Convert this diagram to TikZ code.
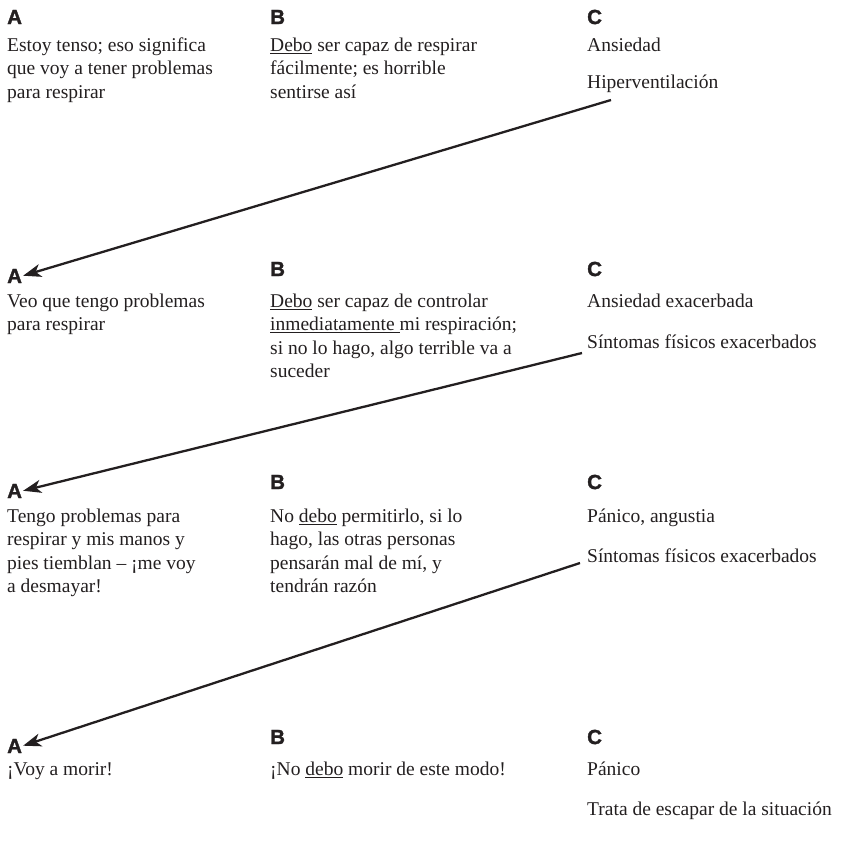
\documentclass[tikz,border=0pt]{standalone}
\usepackage{fontspec}
\setmainfont{Liberation Serif}
\newfontfamily\labfamily{Liberation Sans}[BoldFont={Liberation Sans Bold},BoldFeatures={FakeBold=1.6}]
\usetikzlibrary{arrows.meta}
\definecolor{ink}{HTML}{231F20}
\tikzset{
  lab/.style={anchor=west, inner sep=0pt, text=ink, font=\labfamily\bfseries\fontsize{20.5}{20.5}\selectfont},
  txt/.style={anchor=north west, inner sep=0pt, align=left, font=\fontsize{19.5}{23.3}\selectfont, text=ink},
  link/.style={draw=ink, line width=2.3pt, -{Stealth[length=18pt,width=13pt,inset=5pt]}, shorten >=1pt},
}
\begin{document}
\begin{tikzpicture}[x=1pt,y=-1pt]
\useasboundingbox (0,0) rectangle (845,855);
% row 1
\node[lab] (a1) at (7,17) {A};
\node[lab] (b1) at (270,17) {B};
\node[lab] (c1) at (587,17) {C};
\node[txt] (ta1) at (7,35) {\strut Estoy tenso; eso significa\\que voy a tener problemas\\para respirar};
\node[txt] (tb1) at (270,35) {\strut\underline{Debo} ser capaz de respirar\\fácilmente; es horrible\\sentirse así};
\node[txt] (tc1) at (587,35) {\strut Ansiedad};
\node[txt] (td1) at (587,72) {\strut Hiperventilación};
% row 2
\node[lab] (a2) at (7,276) {A};
\node[lab] (b2) at (270,269) {B};
\node[lab] (c2) at (587,269) {C};
\node[txt] (ta2) at (7,291) {\strut Veo que tengo problemas\\para respirar};
\node[txt] (tb2) at (270,291) {\strut\underline{Debo} ser capaz de controlar\\\underline{inmediatamente }mi respiración;\\si no lo hago, algo terrible va a\\suceder};
\node[txt] (tc2) at (587,291) {\strut Ansiedad exacerbada};
\node[txt] (td2) at (587,332) {\strut Síntomas físicos exacerbados};
% row 3
\node[lab] (a3) at (7,491) {A};
\node[lab] (b3) at (270,482) {B};
\node[lab] (c3) at (587,482) {C};
\node[txt] (ta3) at (7,506) {\strut Tengo problemas para\\respirar y mis manos y\\pies tiemblan – ¡me voy\\a desmayar!};
\node[txt] (tb3) at (270,506) {\strut No \underline{debo} permitirlo, si lo\\hago, las otras personas\\pensarán mal de mí, y\\tendrán razón};
\node[txt] (tc3) at (587,506) {\strut Pánico, angustia};
\node[txt] (td3) at (587,546) {\strut Síntomas físicos exacerbados};
% row 4
\node[lab] (a4) at (7,746) {A};
\node[lab] (b4) at (270,737) {B};
\node[lab] (c4) at (587,737) {C};
\node[txt] (ta4) at (7,759) {\strut ¡Voy a morir!};
\node[txt] (tb4) at (270,759) {\strut ¡No \underline{debo} morir de este modo!};
\node[txt] (tc4) at (587,759) {\strut Pánico};
\node[txt] (td4) at (587,799) {\strut Trata de escapar de la situación};
% connectors
\coordinate (s1) at (611,100);
\coordinate (s2) at (582,353);
\coordinate (s3) at (580,563);
\draw[link] (s1) -- (a2.east);
\draw[link] (s2) -- (a3.east);
\draw[link] (s3) -- (a4.east);
\end{tikzpicture}
\end{document}
